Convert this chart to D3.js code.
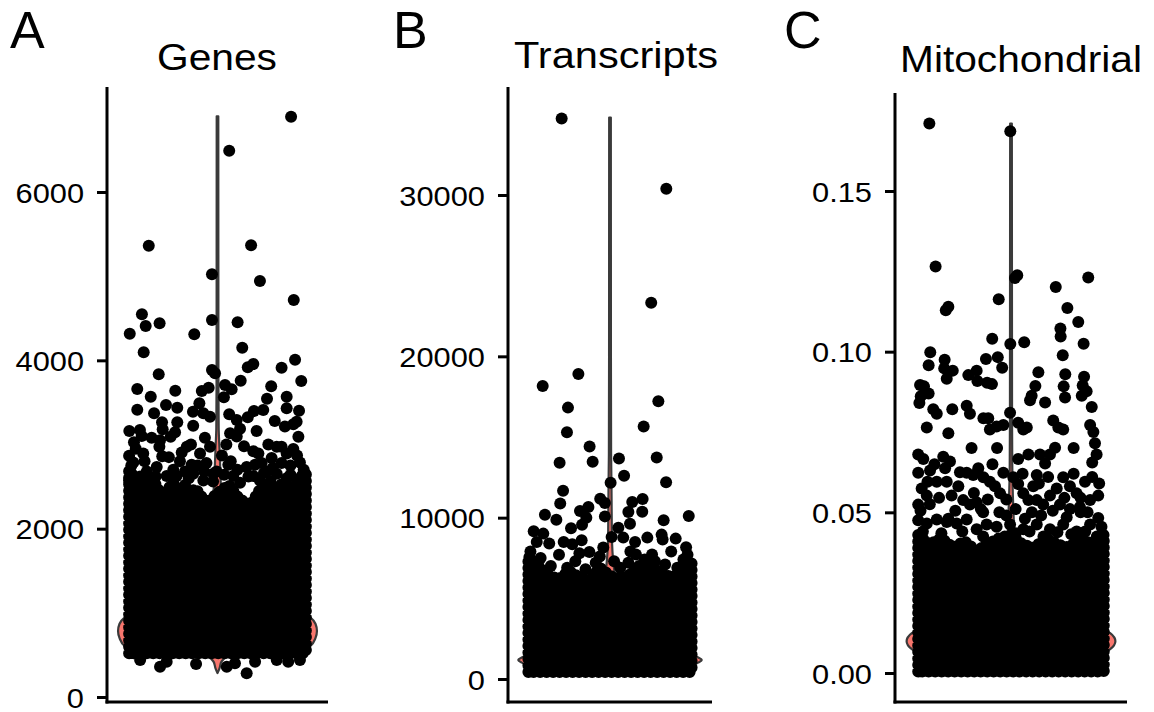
<!DOCTYPE html>
<html>
<head>
<meta charset="utf-8">
<script src="https://cdn.jsdelivr.net/npm/d3@7"></script>
<style>
  html, body { margin: 0; padding: 0; background: #ffffff; }
  svg { display: block; }
</style>
</head>
<body>
<svg id="chart" width="1154" height="712"></svg>
<script>
// ---------------- DATA ----------------
const panelLetters = ["A", "B", "C"];
const panelTitles = ["Genes", "Transcripts", "Mitochondrial"];

const genesTicks = [0, 2000, 4000, 6000];
const transcriptsTicks = [0, 10000, 20000, 30000];
const mitoTicks = [0, 0.05, 0.10, 0.15];

// violin density profiles: [value, relative half-width]
const genesViolin = [[285,0],[340,0.02],[420,0.04],[480,0.1],[530,0.45],[600,0.93],[700,0.985],[785,1.0],[870,0.985],[950,0.93],[1050,0.78],[1200,0.6],[1400,0.46],[1650,0.33],[1950,0.2],[2250,0.08],[2500,0.035],[2700,0.028],[2950,0.02],[3200,0.012],[4000,0.009],[6900,0.008]];
const transcriptsViolin = [[300,0],[450,0.35],[650,0.8],[1000,0.955],[1175,1.0],[1350,0.955],[1700,0.82],[2200,0.62],[3000,0.4],[4000,0.24],[5500,0.11],[7000,0.04],[9000,0.02],[12000,0.016],[14000,0.012],[20000,0.01],[34800,0.009]];
const mitoViolin = [[0,0.3],[0.003,0.6],[0.006,0.88],[0.0074,0.95],[0.0099,1.0],[0.0124,0.95],[0.014,0.86],[0.018,0.68],[0.022,0.48],[0.027,0.3],[0.032,0.14],[0.037,0.05],[0.042,0.035],[0.048,0.026],[0.055,0.018],[0.065,0.012],[0.08,0.01],[0.171,0.008]];

// jitter positions of the solid cloud outline (category units)
const coreJitter = [-0.4,-0.35,-0.3,-0.25,-0.2,-0.15,-0.1,-0.05,0,0.05,0.1,0.15,0.2,0.25,0.3,0.35,0.4];
const genesCoreTop = [2700,2500,2620,2380,2550,2350,2480,2300,2420,2520,2350,2280,2500,2400,2560,2450,2650];
const genesCoreBottom = 520;
const transcriptsCoreTop = [7600,7000,6400,6200,6700,6300,6100,6900,6400,6200,6500,7100,6900,6600,6300,6500,7300];
const transcriptsCoreBottom = 430;
const mitoCoreTop = [0.043,0.040,0.042,0.039,0.041,0.038,0.040,0.042,0.043,0.040,0.039,0.042,0.040,0.039,0.042,0.040,0.043];
const mitoCoreBottom = 0.0005;

// individual cells outside the solid cloud: [jitter, value]
const genesPoints = [
[-0.311,5362],[0.053,6490],[0.333,6894],[0.152,5366],[-0.025,5022],[0.192,4942],[0.345,4717],[-0.342,4547],[-0.325,4408],[-0.262,4440],[-0.397,4316],[-0.105,4309],[-0.025,4479],[0.091,4452],[-0.334,4095],[0.112,4150],[0.351,4007],[0.137,3917],[0.162,3956],[0.29,3912],[-0.025,3885],[-0.011,3846],[-0.266,3834],[0.379,3754],[0.105,3758],[-0.363,3659],[-0.191,3639],[0.243,3691],[-0.302,3568],[-0.071,3636],[-0.04,3675],[0.034,3707],[0.064,3656],[0.029,3561],[0.313,3568],[0.224,3544],[-0.363,3413],[-0.233,3469],[-0.182,3437],[-0.287,3371],[-0.082,3489],[-0.111,3390],[-0.064,3371],[-0.034,3330],[0.053,3359],[0.087,3291],[0.137,3323],[0.165,3398],[0.207,3410],[0.259,3279],[0.313,3430],[0.369,3401],[0.358,3271],[-0.399,3160],[-0.351,3172],[-0.251,3264],[-0.182,3264],[-0.248,3180],[-0.11,3223],[-0.192,3145],
[-0.378,3027],[-0.343,3100],[-0.212,3091],[-0.263,2973],[-0.298,3080],[-0.336,2893],[-0.4,2866],[-0.381,2786],[-0.396,2679],[-0.4,2572],[-0.393,2491],[-0.162,2904],[-0.139,2973],[-0.057,3080],[-0.034,2973],[-0.079,2893],[-0.117,2759],[-0.147,2679],[0.057,3134],[0.087,3096],[0.162,2920],[0.185,2893],[0.177,3161],[0.366,3091],[0.29,2973],[0.313,2893],[0.343,2946],[0.268,2973],[0.245,2839],[0.373,2786],[0.381,2625],[0.388,2464],[0.132,2732],[0.162,2625],[0.049,2759],[-0.004,2679],[-0.32,2679],[-0.275,2732],[-0.23,2625],[-0.185,2625],[-0.147,2518],[-0.11,2652],[-0.064,2572],[-0.019,2652],[0.071,2625],[0.102,2545],[0.192,2572],[0.223,2679],[0.268,2652],[0.313,2598],[0.305,3214],[0.343,3241],[0.102,3187],
[-0.37,2950],[-0.22,2850],[0.02,2870],[0.12,2980],[0.2,2780],[0.33,2750],[-0.3,2560],[-0.05,2780],[0.24,2560],[0.36,2870],
[-0.39,2750],[-0.35,2620],[-0.33,2800],[-0.28,2620],[-0.25,2860],[-0.2,2700],[-0.17,2800],[-0.13,2600],[-0.09,2750],[-0.06,2680],[-0.02,2560],[0.03,2640],[0.06,2800],[0.09,2700],[0.14,2620],[0.17,2760],[0.21,2660],[0.25,2720],[0.29,2780],[0.33,2640],[0.36,2560],[0.39,2700],[-0.26,3050],[0.23,3000],[0.04,3000],[-0.12,3000],
[-0.26,360],[-0.23,420],[-0.097,392],[0.042,360],[0.079,400],[0.132,282],[0.17,420],[0.268,440],[0.32,420],[-0.35,440],[0.373,440]
];

const transcriptsPoints = [
[-0.237,34737],[0.276,30383],[0.202,23315],[-0.155,18905],[-0.33,18163],[-0.206,16821],[0.237,17211],[-0.211,15294],[0.165,15646],[-0.1,14409],[-0.247,13401],[-0.085,13463],[0.044,13667],[0.229,13729],[0.069,12597],[0.003,12165],[0.275,12202],[-0.23,11670],[-0.244,10884],[-0.048,11175],[-0.025,10903],[0.16,11150],[0.109,10965],[-0.319,10186],[-0.263,9876],[-0.106,10656],[-0.147,10408],[-0.116,10000],[-0.025,10080],[0.09,10346],[0.158,10371],[0.386,10099],[0.263,9833],[0.098,9629],[-0.137,9567],[-0.191,9338],[0.041,9382],[-0.374,9153],[-0.327,9011],[0.183,8763],[0.253,8949],[0.258,8640],[0.322,8701],[0.373,8163],[-0.227,8491],[-0.185,8349],[-0.139,8596],[-0.359,8491],[-0.298,8392],[0.008,8800],[0.065,8763],[0.123,8491],[-0.033,8145],[0.206,7712],[-0.101,7873],[0.127,7712],
[-0.39,7900],[-0.25,7700],[-0.05,7600],[0.3,7900],[0.38,7700],[0.02,7300],[-0.17,7300],[0.17,7400],
[-0.38,7200],[-0.34,7500],[-0.29,7000],[-0.21,6900],[-0.12,6800],[-0.07,7200],[0.05,6900],[0.09,7200],[0.13,6800],[0.22,7300],[0.27,7100],[0.33,6900],[0.36,7400],[-0.15,7800],[0.1,7900]
];

const mitoPoints = [
[-0.352,0.1710],[-0.003,0.1686],[-0.325,0.1265],[0.027,0.1238],[0.017,0.1229],[0.333,0.1231],[0.193,0.1201],[-0.27,0.1140],[-0.281,0.1129],[-0.053,0.1163],[0.243,0.1136],[0.29,0.1092],[0.213,0.1072],[-0.081,0.1040],[-0.003,0.1024],[0.057,0.1029],[0.313,0.1025],[-0.348,0.0998],[0.223,0.0989],[-0.355,0.0958],[-0.286,0.0975],[-0.108,0.0977],[-0.057,0.0983],[-0.038,0.0950],[-0.288,0.0948],[-0.251,0.0941],[-0.277,0.0916],[-0.392,0.0896],[-0.355,0.0870],[-0.184,0.0927],[-0.148,0.0941],[-0.145,0.0909],[-0.103,0.0903],[-0.082,0.0899],[0.118,0.0936],[0.234,0.0930],[0.315,0.0922],[0.227,0.0892],[0.105,0.0893],[0.309,0.0895],
[-0.375,0.0892],[-0.395,0.0840],[-0.389,0.0861],[-0.335,0.0821],[-0.32,0.0807],[-0.363,0.0764],[-0.27,0.0746],[-0.253,0.0821],[-0.191,0.0832],[-0.177,0.0807],[-0.119,0.0793],[-0.098,0.0793],[-0.091,0.0758],[-0.062,0.0767],[-0.033,0.0772],[-0.004,0.0810],[0.031,0.0779],[0.053,0.0758],[0.068,0.0764],[0.075,0.0680],[0.031,0.0666],[0.089,0.0863],[0.082,0.0849],[0.147,0.0842],[0.214,0.1047],[0.233,0.0857],[0.326,0.0877],[0.305,0.0863],[0.348,0.0828],[0.341,0.0772],[0.355,0.0750],[0.362,0.0715],[0.369,0.0680],[0.182,0.0786],[0.204,0.0764],[0.225,0.0758],[0.19,0.0701],[0.168,0.0680],[0.125,0.0680],[0.147,0.0652],[0.111,0.0616],
[-0.4,0.0680],[-0.378,0.0666],[-0.4,0.0623],[-0.349,0.0630],[-0.32,0.0595],[-0.292,0.0673],[-0.263,0.0658],[-0.284,0.0637],[-0.385,0.0574],[-0.363,0.0552],[-0.4,0.0524],[-0.277,0.0595],[-0.256,0.0552],[-0.227,0.0581],[-0.191,0.0623],[-0.163,0.0616],[-0.141,0.0637],[-0.119,0.0609],[-0.206,0.0538],[-0.177,0.0524],[-0.148,0.0531],[-0.091,0.0595],[-0.069,0.0581],[-0.047,0.0559],[-0.033,0.0623],[0.01,0.0609],[0.031,0.0588],[0.053,0.0559],[0.075,0.0538],[0.096,0.0581],[0.111,0.0538],[0.139,0.0524],[0.168,0.0552],[0.197,0.0574],[0.225,0.0609],[0.254,0.0581],[0.283,0.0559],[0.319,0.0595],[0.341,0.0538],[0.376,0.0552],[0.376,0.0482],[0.211,0.0524],[0.254,0.0510],[0.297,0.0517],
[-0.4,0.0475],[-0.363,0.0465],[-0.32,0.0478],[-0.277,0.0470],[-0.234,0.0465],[-0.191,0.0478],
[-0.148,0.0447],[-0.105,0.0462],[-0.062,0.0455],[-0.004,0.0462],[0.053,0.0447],[0.111,0.0462],[0.168,0.0447],[0.225,0.0462],[0.283,0.0440],[0.341,0.0462],[0.39,0.0455],
[-0.38,0.044],[-0.3,0.0435],[-0.21,0.044],[-0.12,0.0425],[0.02,0.0435],[0.08,0.044],[0.14,0.0425],[0.2,0.0438],[0.26,0.0432],[0.32,0.044],[0.37,0.0425],[-0.02,0.049],[0.13,0.049],[-0.12,0.05],[0.3,0.05],
[-0.39,0.0505],[-0.35,0.0525],[-0.31,0.0545],[-0.36,0.0595],[-0.33,0.0650],[-0.24,0.0505],[-0.22,0.0625],[-0.16,0.0560],[-0.13,0.0510],[-0.1,0.0540],[-0.08,0.0650],[-0.05,0.0500],[-0.02,0.0540],[0.02,0.0510],[0.05,0.0620],[0.09,0.0500],[0.12,0.0590],[0.16,0.0610],[0.18,0.0505],[0.23,0.0545],[0.27,0.0620],[0.3,0.0545],[0.35,0.0610],[0.38,0.0590],[0.33,0.0500],[-0.27,0.0480],[0.06,0.0480],[0.24,0.0485],[-0.06,0.0700],[0.27,0.0700],[-0.17,0.0700],[0.35,0.0655]
];

// ---------------- LAYOUT ----------------
const FONT = "'Liberation Sans', Arial, Helvetica, sans-serif";
const layout = [
  { letterX: 10, titleX: 217, titleY: 70, titleLen: 120, axisX: 107, axisTop: 87, axisRight: 328, yRange: [697, 192], domain: [0, 6000], ticks: genesTicks, fmt: d3.format("d"), violin: genesViolin, points: genesPoints, coreTop: genesCoreTop, coreBottom: genesCoreBottom },
  { letterX: 393, titleX: 616, titleY: 68, titleLen: 204, axisX: 508, axisTop: 87, axisRight: 712, yRange: [679, 195], domain: [0, 30000], ticks: transcriptsTicks, fmt: d3.format("d"), violin: transcriptsViolin, points: transcriptsPoints, coreTop: transcriptsCoreTop, coreBottom: transcriptsCoreBottom },
  { letterX: 784, titleX: 1021, titleY: 72, titleLen: 242, axisX: 895, axisTop: 93, axisRight: 1127, yRange: [673, 191], domain: [0, 0.15], ticks: mitoTicks, fmt: d3.format(".2f"), violin: mitoViolin, points: mitoPoints, coreTop: mitoCoreTop, coreBottom: mitoCoreBottom }
];
const xAxisY = 702;
const R = 6;

const svg = d3.select("#chart");

layout.forEach((p, i) => {
  const g = svg.append("g");
  const y = d3.scaleLinear().domain(p.domain).range(p.yRange);
  const x = d3.scaleLinear().domain([-0.5, 0.5]).range([p.axisX, p.axisRight]);

  // panel letter
  g.append("text").attr("x", p.letterX).attr("y", 48)
    .attr("font-family", FONT).attr("font-size", 52).attr("fill", "#000")
    .text(panelLetters[i]);

  // title
  g.append("text").attr("x", p.titleX).attr("y", p.titleY)
    .attr("text-anchor", "middle")
    .attr("font-family", FONT).attr("font-size", 36).attr("fill", "#000")
    .attr("textLength", p.titleLen).attr("lengthAdjust", "spacingAndGlyphs")
    .text(panelTitles[i]);

  // violin
  const area = d3.area()
    .y(d => y(d[0]))
    .x0(d => x(-0.45 * d[1]))
    .x1(d => x(0.45 * d[1]))
    .curve(d3.curveMonotoneY);
  g.append("path").datum(p.violin)
    .attr("d", area)
    .attr("fill", "#F8766D")
    .attr("stroke", "#3a3a3a")
    .attr("stroke-width", 2.2)
    .attr("stroke-linejoin", "round");

  // dense cloud of overlapping cells
  const outline = [[coreJitter[0], p.coreBottom]]
    .concat(coreJitter.map((j, k) => [j, p.coreTop[k]]))
    .concat([[coreJitter[coreJitter.length - 1], p.coreBottom]]);
  const line = d3.line().x(d => x(d[0])).y(d => y(d[1])).curve(d3.curveLinearClosed);
  g.append("path").datum(outline)
    .attr("d", line)
    .attr("fill", "#000")
    .attr("stroke", "#000")
    .attr("stroke-width", 2 * R)
    .attr("stroke-linecap", "round")
    .attr("stroke-linejoin", "round")
    .attr("stroke-dasharray", "0 6.5");

  // individual cells
  g.append("g").selectAll("circle").data(p.points).join("circle")
    .attr("cx", d => x(d[0]))
    .attr("cy", d => y(d[1]))
    .attr("r", R)
    .attr("fill", "#000");

  // y axis
  const ax = d3.axisLeft(y).tickValues(p.ticks).tickFormat(p.fmt).tickSize(10).tickSizeOuter(0);
  const ag = g.append("g").attr("transform", `translate(${p.axisX},0)`).call(ax);
  ag.select(".domain").remove();
  ag.selectAll(".tick line").attr("stroke", "#000").attr("stroke-width", 3);
  ag.selectAll(".tick text")
    .attr("x", 0)
    .attr("dy", "0.36em")
    .attr("transform", "translate(-23,0) scale(1.1,1)")
    .attr("font-family", FONT).attr("font-size", 28).attr("fill", "#000");

  g.append("line").attr("x1", p.axisX).attr("x2", p.axisX)
    .attr("y1", p.axisTop).attr("y2", xAxisY + 1.5)
    .attr("stroke", "#000").attr("stroke-width", 3);
  g.append("line").attr("x1", p.axisX - 1.5).attr("x2", p.axisRight)
    .attr("y1", xAxisY).attr("y2", xAxisY)
    .attr("stroke", "#000").attr("stroke-width", 3);
});
</script>
</body>
</html>
